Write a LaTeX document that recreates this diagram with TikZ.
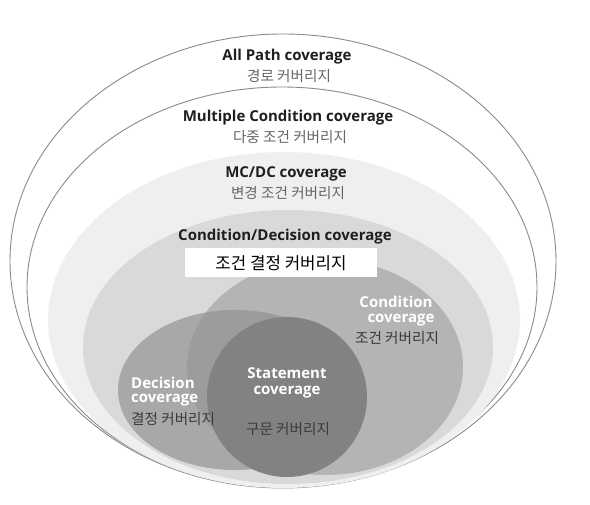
\documentclass[tikz,border=0pt]{standalone}
\usepackage{fontspec}
\setmainfont{Open Sans}
\newfontfamily\krfont{Noto Sans CJK KR}
\definecolor{lineC}{HTML}{8A8A8A}
\definecolor{mcdcC}{HTML}{EFEFEF}
\definecolor{cdC}{HTML}{D9D9D9}
\definecolor{condC}{HTML}{B4B4B4}
\definecolor{decC}{HTML}{A8A8A8}
\definecolor{interC}{HTML}{9C9C9C}
\definecolor{stmtC}{HTML}{828282}
\definecolor{koGray}{HTML}{666666}
\definecolor{koDark}{HTML}{3A3A3A}
\begin{document}
\begin{tikzpicture}[x=1pt,y=-1pt,
  en/.style={font=\fontsize{15}{17}\selectfont\bfseries, text=black!88, inner sep=0pt},
  enw/.style={en, text=white},
  ko/.style={font=\krfont\fontsize{14.6}{16}\selectfont, text=koGray, inner sep=0pt},
  kod/.style={ko, text=koDark},
  ring/.style={draw=lineC, line width=0.9pt, fill=white}]
\useasboundingbox (0,0) rectangle (590,505);
% nested coverage regions
\path[ring] (283,261) ellipse [x radius=273, y radius=227];
\path[ring] (282,287) ellipse [x radius=255, y radius=200];
\path[fill=mcdcC] (284,320) ellipse [x radius=236, y radius=168];
\path[fill=cdC] (288,347) ellipse [x radius=205, y radius=137];
\path[fill=condC] (325,367) ellipse [x radius=138, y radius=108];
\path[fill=decC] (235,390) ellipse [x radius=117, y radius=80];
\begin{scope}
  \clip (325,367) ellipse [x radius=138, y radius=108];
  \path[fill=interC] (235,390) ellipse [x radius=117, y radius=80];
\end{scope}
\path[fill=stmtC] (287,397) circle [radius=80];
% white label box
\node[fill=white, minimum width=192pt, minimum height=29pt, inner sep=0pt] (cdbox) at (281,262.5) {};
% labels
\node[en] (ap) at (287,57) {All Path coverage};
\node[ko] (apk) at (289,76) {경로 커버리지};
\node[en] (mc) at (288,118) {Multiple Condition coverage};
\node[ko] (mck) at (290,137) {다중 조건 커버리지};
\node[en] (md) at (286,174) {MC/DC coverage};
\node[ko] (mdk) at (288,193) {변경 조건 커버리지};
\node[en] (cd) at (285,237) {Condition/Decision coverage};
\node[font=\krfont\fontsize{16.8}{18}\selectfont, text=black, inner sep=0pt] (cdk) at (281,263) {조건 결정 커버리지};
\node[enw] (c1) at (396,302) {Condition};
\node[enw] (c2) at (401,320) {coverage};
\node[kod] (ck) at (397,338) {조건 커버리지};
\node[enw, anchor=west] (d1) at (131,383) {Decision};
\node[enw, anchor=west] (d2) at (131,400) {coverage};
\node[kod, anchor=west] (dk) at (131,419) {결정 커버리지};
\node[enw] (s1) at (287,373) {Statement};
\node[enw] (s2) at (287,392) {coverage};
\node[kod] (sk) at (288,429) {구문 커버리지};
\end{tikzpicture}
\end{document}
